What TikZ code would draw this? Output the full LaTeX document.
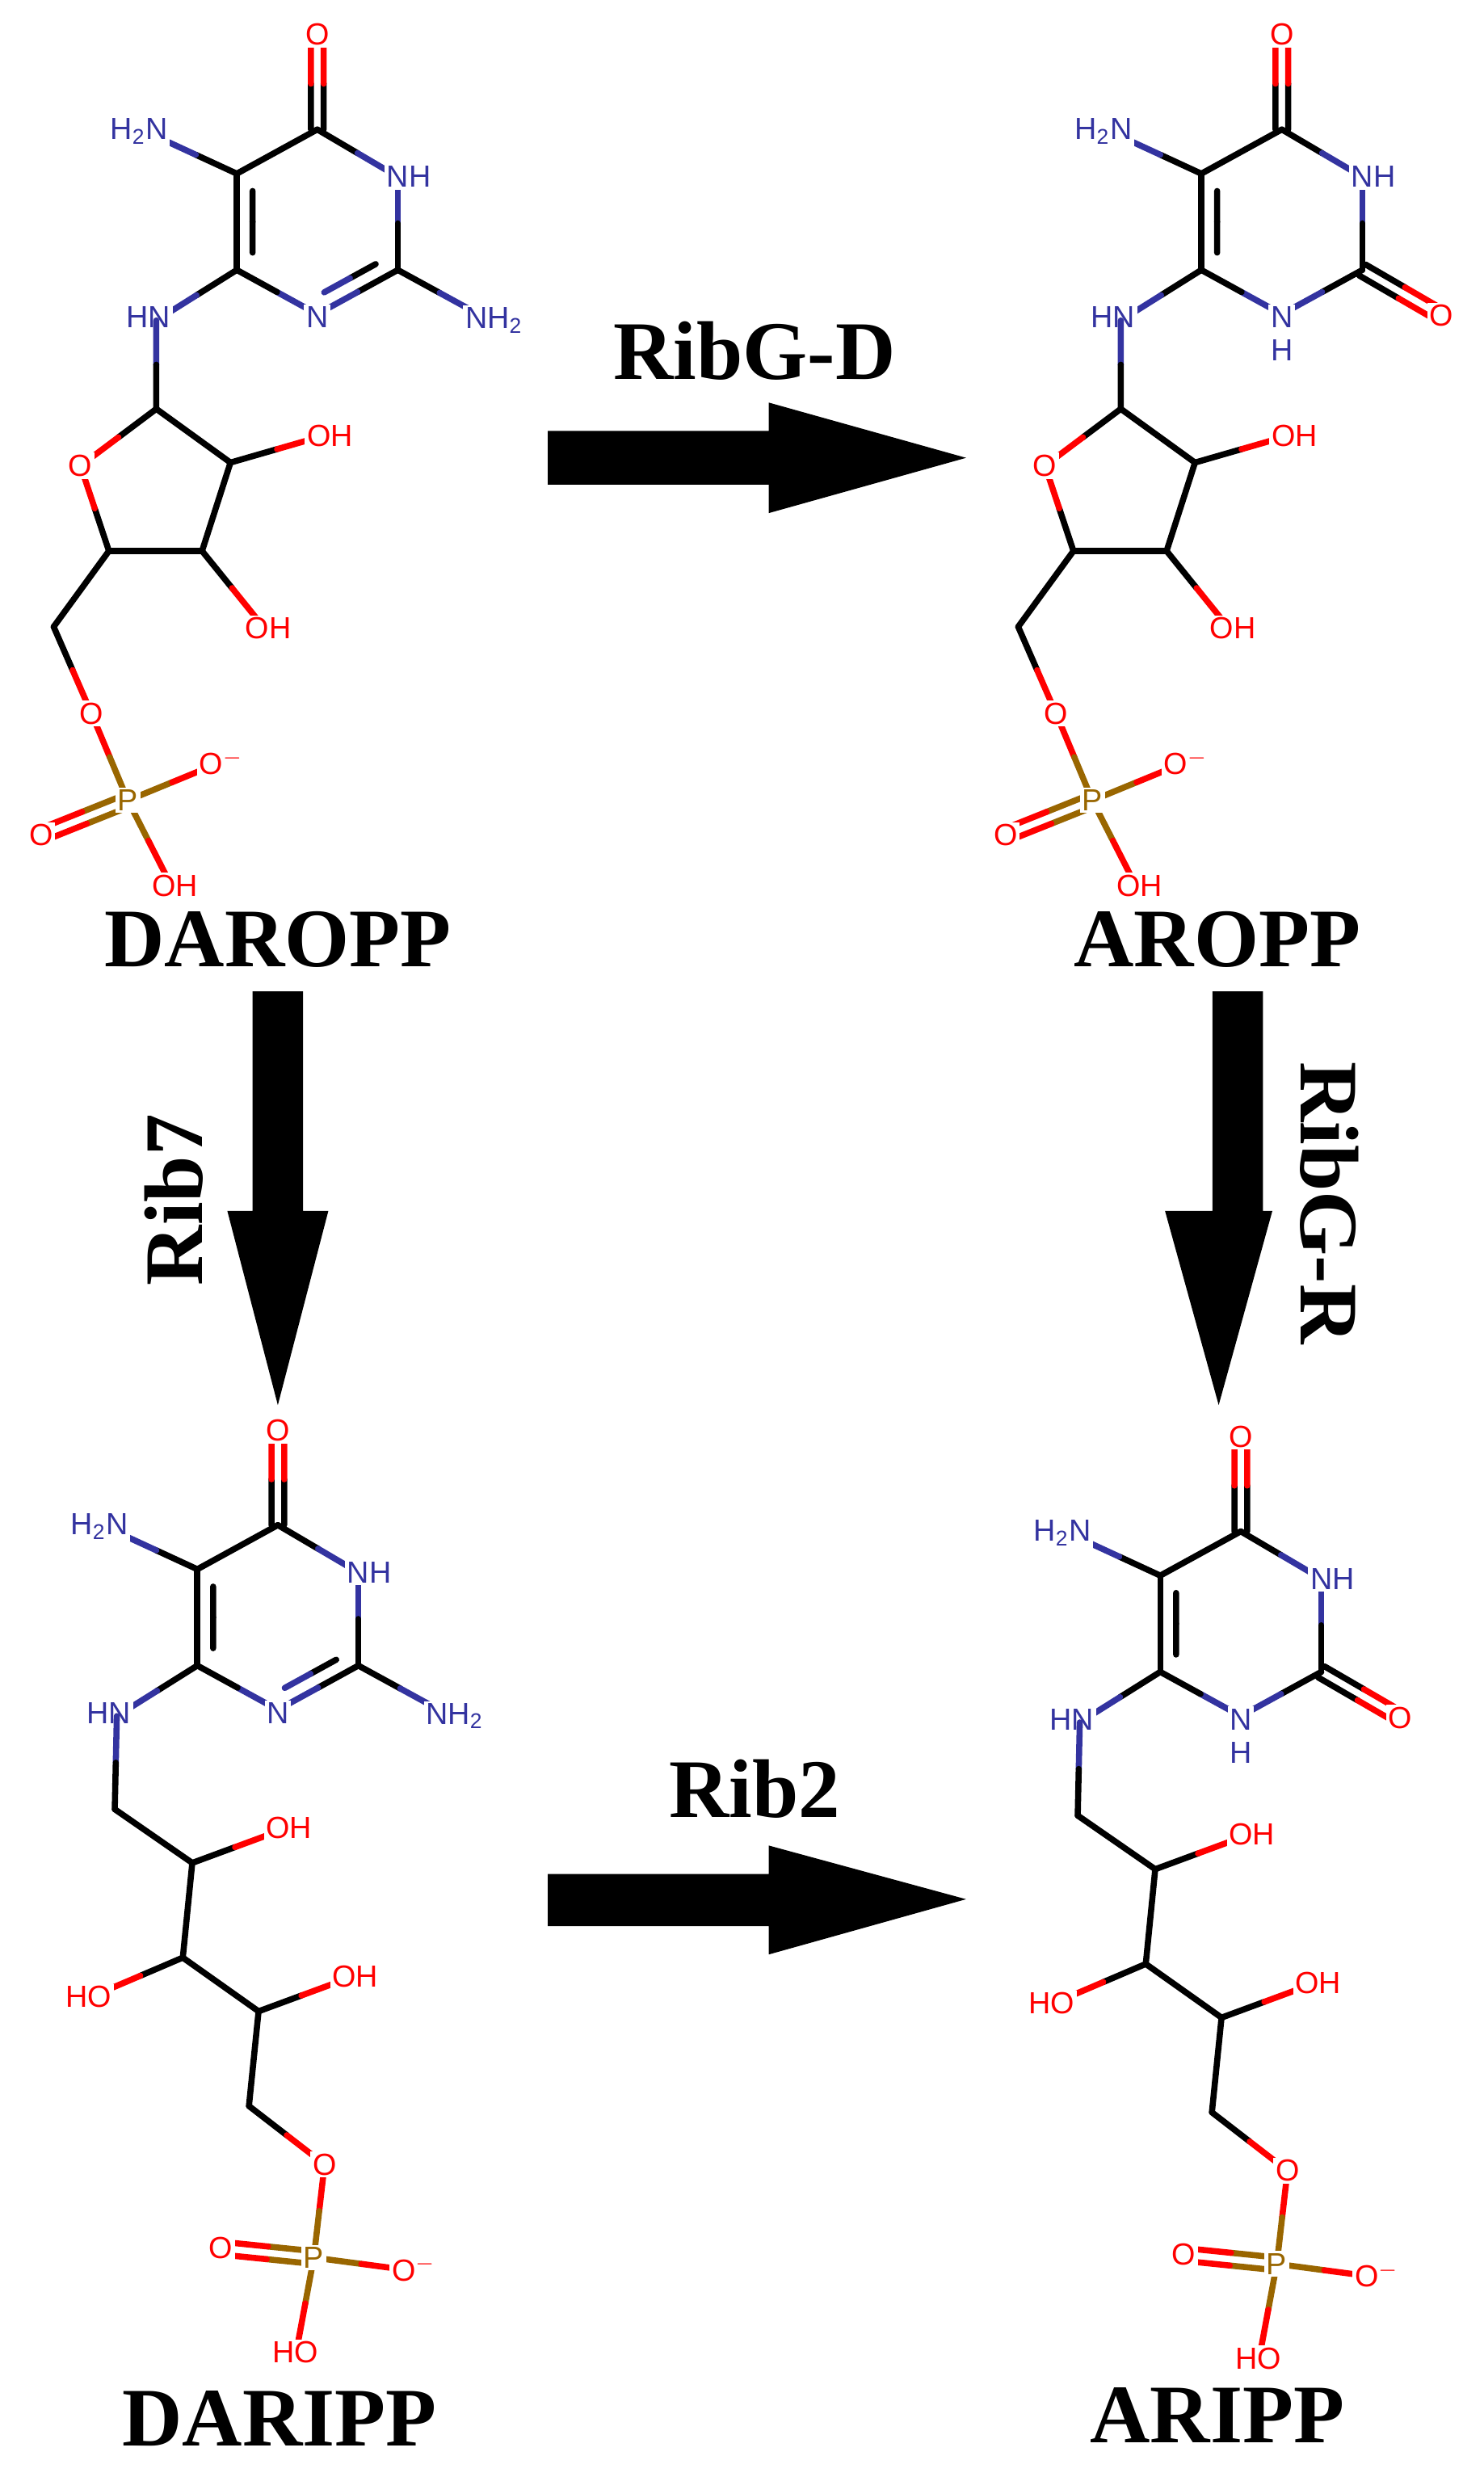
\documentclass[tikz,border=0pt]{standalone}
\usepackage{fontspec}
\setmainfont{Liberation Serif}
\setsansfont{Liberation Sans}
\usetikzlibrary{calc}
\definecolor{nb}{RGB}{51,51,160}
\definecolor{orr}{RGB}{255,0,0}
\definecolor{pb}{RGB}{153,102,0}
\newcommand\bd[4]{\draw[#3] (#1) -- ($(#1)!0.5!(#2)$); \draw[#4] ($(#1)!0.5!(#2)$) -- (#2);}
\newcommand\dbl[4]{%
 \coordinate (tm) at ($(#1)!0.5!(#2)$);
 \draw[#3] ($(#1)!2.3pt!90:(#2)$) -- ($(tm)!2.3pt!90:(#2)$);
 \draw[#4] ($(tm)!2.3pt!90:(#2)$) -- ($(#2)!2.3pt!-90:(#1)$);
 \draw[#3] ($(#1)!2.3pt!-90:(#2)$) -- ($(tm)!2.3pt!-90:(#2)$);
 \draw[#4] ($(tm)!2.3pt!-90:(#2)$) -- ($(#2)!2.3pt!90:(#1)$);}
\newcommand\dbi[5]{%
 \bd{#1}{#2}{#3}{#4}
 \coordinate (tp) at ($(#1)!0.18!(#2)$);
 \coordinate (tq) at ($(#1)!0.82!(#2)$);
 \coordinate (tm) at ($(#1)!0.5!(#2)$);
 \draw[#3] ($(tp)!5.7pt!#5:(#2)$) -- ($(tm)!5.7pt!#5:(#2)$);
 \draw[#4] ($(tm)!5.7pt!#5:(#2)$) -- ($(tq)!5.7pt!#5:(#2)$);}
\tikzset{atm/.style={font=\sffamily\fontsize{11}{11}\selectfont, fill=white, inner sep=0.8pt},
 big/.style={font=\bfseries\fontsize{30}{30}\selectfont},
 fat/.style={fill=black, draw=none}}
\newcommand\ringbase[1]{%
 \coordinate (O6) at (201,24); \coordinate (C4) at (201,82); \coordinate (C5) at (150,110);
 \coordinate (N3) at (252,112); \coordinate (C6) at (150,171); \coordinate (N1) at (201,199);
 \coordinate (C2) at (252,171); \coordinate (N5) at (98,86); \coordinate (N6) at (99,203);
 \dbl{C4}{O6}{black}{orr}
 \draw (C4) -- (C5);
 \bd{C4}{N3}{black}{nb} \bd{N3}{C2}{nb}{black}
 \bd{N1}{C6}{nb}{black}
 \dbi{C5}{C6}{black}{black}{90}
 \bd{C5}{N5}{black}{nb} \bd{C6}{N6}{black}{nb}
 \ifnum#1=1
  \coordinate (N2) at (305,200);
  \dbi{C2}{N1}{black}{nb}{-90}
  \bd{C2}{N2}{black}{nb}
  \node[atm] (lN1) at (201,201) {N};
  \node[atm] (lN2) at (313,203) {NH\textsubscript{2}};
 \else
  \coordinate (O2) at (302,200);
  \bd{C2}{N1}{black}{nb}
  \dbl{C2}{O2}{black}{orr}
  \node[atm] (lN1) at (201,201) {N};
  \node[atm,fill=none] (lH1) at (201,222) {H};
  \node[atm,text=orr] (lO2) at (302,200) {O};
 \fi
 \node[atm,text=orr] (lO6) at (201,22) {O};
 \node[atm] (lN3) at (259,112) {NH};
 \node[atm] (lN5) at (88,83) {H\textsubscript{2}N};
 \node[atm] (lN6) at (94,201) {HN};
}
\newcommand\ribose{%
 \coordinate (Ca) at (99,259); \coordinate (Oa) at (51,295); \coordinate (Cb) at (146,293);
 \coordinate (Ob) at (205,276); \coordinate (Cc) at (128,349); \coordinate (Oc) at (166,396);
 \coordinate (Cd) at (69,349); \coordinate (Ce) at (34,397); \coordinate (Of) at (58,452);
 \coordinate (P) at (81,507); \coordinate (Om) at (137,484); \coordinate (Od) at (26,529);
 \coordinate (Oh) at (107,558);
 \bd{N6}{Ca}{nb}{black} \bd{Ca}{Oa}{black}{orr} \draw (Ca) -- (Cb);
 \bd{Cb}{Ob}{black}{orr} \draw (Cb) -- (Cc) -- (Cd); \bd{Cc}{Oc}{black}{orr}
 \bd{Cd}{Oa}{black}{orr} \draw (Cd) -- (Ce); \bd{Ce}{Of}{black}{orr}
 \bd{Of}{P}{orr}{pb} \bd{P}{Om}{pb}{orr} \dbl{P}{Od}{pb}{orr} \bd{P}{Oh}{pb}{orr}
 \node[atm,text=orr] (lOa) at (51,295) {O};
 \node[atm,text=orr] (lOb) at (209,276) {OH};
 \node[atm,text=orr] (lOc) at (170,398) {OH};
 \node[atm,text=orr] (lOf) at (58,452) {O};
 \node[atm,text=pb] (lP) at (81,507) {P};
 \node[atm,text=orr] (lOm) at (140,483) {O\textsuperscript{$-$}};
 \node[atm,text=orr] (lOd) at (26,529) {O};
 \node[atm,text=orr] (lOh) at (111,561) {OH};
}
\newcommand\ribitol{%
 \coordinate (Ca) at (72.7,1146); \coordinate (Cb) at (121.8,1180); \coordinate (Ob) at (176,1160);
 \coordinate (Cc) at (115.8,1240); \coordinate (Oc) at (62,1263); \coordinate (Cd) at (163.8,1274);
 \coordinate (Od) at (218,1254); \coordinate (Ce) at (157.7,1334); \coordinate (Of) at (205.6,1371);
 \coordinate (P) at (198.8,1430); \coordinate (Odb) at (140,1424); \coordinate (Om) at (259,1438);
 \coordinate (Oh) at (188,1488);
 \bd{N6}{Ca}{nb}{black} \draw (Ca) -- (Cb) -- (Cc) -- (Cd) -- (Ce);
 \bd{Cb}{Ob}{black}{orr} \bd{Cc}{Oc}{black}{orr} \bd{Cd}{Od}{black}{orr}
 \bd{Ce}{Of}{black}{orr} \bd{Of}{P}{orr}{pb} \dbl{P}{Odb}{pb}{orr}
 \bd{P}{Om}{pb}{orr} \bd{P}{Oh}{pb}{orr}
 \node[atm,text=orr] (lOb) at (183,1158) {OH};
 \node[atm,text=orr] (lOc) at (56,1265) {HO};
 \node[atm,text=orr] (lOd) at (225,1252) {OH};
 \node[atm,text=orr] (lOf) at (205.6,1371) {O};
 \node[atm,text=pb] (lP) at (198.8,1430) {P};
 \node[atm,text=orr] (lOdb) at (140,1424) {O};
 \node[atm,text=orr] (lOm) at (262,1437) {O\textsuperscript{$-$}};
 \node[atm,text=orr] (lOh) at (187,1490) {HO};
}
\begin{document}
\begin{tikzpicture}[x=0.02cm,y=-0.02cm,line width=2.2pt,line cap=round,line join=round,text=nb]
\useasboundingbox[fill=white] (0,0) rectangle (940,1569);
\begin{scope}\ringbase{1}\ribose\end{scope}
\begin{scope}[shift={(611,0)}]\ringbase{2}\ribose\end{scope}
\begin{scope}[shift={(-25,884)}]\ringbase{1}\end{scope}
\ribitol
\begin{scope}[shift={(585,888)}]\ringbase{2}\end{scope}
\begin{scope}[shift={(610,4)}]\ribitol\end{scope}
\node[big,text=black] (m1) at (176,595) {DAROPP};
\node[big,text=black] (m2) at (771,595) {AROPP};
\node[big,text=black] (m3) at (177,1532) {DARIPP};
\node[big,text=black] (m4) at (771,1530) {ARIPP};
\fill[fat] (347,273) -- (487,273) -- (487,255) -- (612,290) -- (487,325) -- (487,307) -- (347,307) -- cycle;
\fill[fat] (347,1187) -- (487,1187) -- (487,1169) -- (612,1203) -- (487,1238) -- (487,1220) -- (347,1220) -- cycle;
\fill[fat] (160,628) -- (192,628) -- (192,767) -- (208,767) -- (176,890) -- (144,767) -- (160,767) -- cycle;
\fill[fat] (768,628) -- (800,628) -- (800,767) -- (806,767) -- (772,890) -- (738,767) -- (768,767) -- cycle;
\node[big,text=black] (e1) at (478,222) {RibG-D};
\node[big,text=black] (e2) at (478,1133) {Rib2};
\node[big,text=black,rotate=90] (e3) at (110,760) {Rib7};
\node[big,text=black,rotate=-90] (e4) at (842,762) {RibG-R};
\end{tikzpicture}
\end{document}
